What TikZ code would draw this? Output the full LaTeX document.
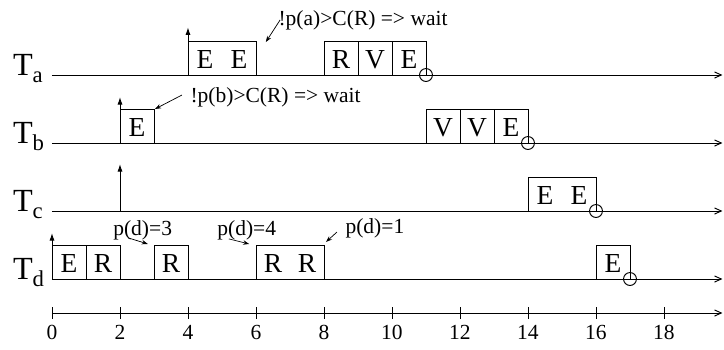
\documentclass[tikz,border=0pt]{standalone}
\usepackage{fontspec}
\setmainfont{Liberation Serif}
\usetikzlibrary{arrows.meta}
\begin{document}
\begin{tikzpicture}[x=1cm,y=1cm,line width=0.8pt,
  box/.style={draw,rectangle,minimum height=1cm,inner sep=0pt,outer sep=0pt},
  lett/.style={font=\fontsize{23}{23}\selectfont,inner sep=0pt,anchor=base},
  note/.style={font=\fontsize{18}{18}\selectfont,inner sep=0pt,anchor=base west},
  num/.style={font=\fontsize{18}{18}\selectfont,inner sep=0pt,anchor=base},
  tl/.style={inner sep=0pt,anchor=base west},
  rel/.style={-{Latex[length=2.2mm,width=1.5mm]}},
  ann/.style={-{Stealth[length=1.8mm,width=1.3mm]},line width=0.6pt},
  tline/.style={-{Straight Barb[length=2mm,width=1.8mm]}},
  fin/.style={draw,circle,minimum size=0.38cm,inner sep=0pt,outer sep=0pt}]
\useasboundingbox (-1.529,-1.059) rectangle (19.765,9.206);
\newcommand{\tlab}[1]{{\fontsize{27}{27}\selectfont T}\raisebox{-6pt}{\fontsize{19}{19}\selectfont #1}}
% task labels
\node[tl] (la) at (-1.16,7) {\tlab{a}};
\node[tl] (lb) at (-1.16,5) {\tlab{b}};
\node[tl] (lc) at (-1.16,3) {\tlab{c}};
\node[tl] (ld) at (-1.16,1) {\tlab{d}};
% time lines
\foreach \r/\y in {a/7,b/5,c/3,d/1}{
  \coordinate (\r0) at (0,\y);
  \coordinate (\r9) at (19.72,\y);
  \draw[tline] (\r0) -- (\r9);
}
% ---- T_a
\node[box,minimum width=2cm] (a1) at (5,7.5) {};
\node[lett] (a1x) at (4.5,7.2) {E};
\node[lett] (a1y) at (5.5,7.2) {E};
\node[box,minimum width=1cm] (a2) at (8.5,7.5) {};
\node[box,minimum width=1cm] (a3) at (9.5,7.5) {};
\node[box,minimum width=1cm] (a4) at (10.5,7.5) {};
\node[lett] (a2x) at (8.5,7.2) {R};
\node[lett] (a3x) at (9.5,7.2) {V};
\node[lett] (a4x) at (10.5,7.2) {E};
\node[fin] (ac) at (11,7) {};
\coordinate (ar0) at (4,7); \coordinate (ar1) at (4,8.4);
\draw[rel] (ar0) -- (ar1);
\node[note] (an) at (6.65,8.47) {!p(a)>C(R) => wait};
\coordinate (aa0) at (6.71,8.62); \coordinate (aa1) at (6.29,7.97);
\draw[ann] (aa0) -- (aa1);
% ---- T_b
\node[box,minimum width=1cm] (b1) at (2.5,5.5) {};
\node[lett] (b1x) at (2.5,5.2) {E};
\node[box,minimum width=1cm] (b2) at (11.5,5.5) {};
\node[box,minimum width=1cm] (b3) at (12.5,5.5) {};
\node[box,minimum width=1cm] (b4) at (13.5,5.5) {};
\node[lett] (b2x) at (11.5,5.2) {V};
\node[lett] (b3x) at (12.5,5.2) {V};
\node[lett] (b4x) at (13.5,5.2) {E};
\node[fin] (bc) at (14,5) {};
\coordinate (br0) at (2,5); \coordinate (br1) at (2,6.35);
\draw[rel] (br0) -- (br1);
\node[note] (bn) at (4.06,6.18) {!p(b)>C(R) => wait};
\coordinate (ba0) at (3.82,6.41); \coordinate (ba1) at (3.03,6.0);
\draw[ann] (ba0) -- (ba1);
% ---- T_c
\node[box,minimum width=2cm] (c1) at (15,3.5) {};
\node[lett] (c1x) at (14.5,3.2) {E};
\node[lett] (c1y) at (15.5,3.2) {E};
\node[fin] (cc) at (16,3) {};
\coordinate (cr0) at (2,3); \coordinate (cr1) at (2,4.38);
\draw[rel] (cr0) -- (cr1);
% ---- T_d
\node[box,minimum width=1cm] (d1) at (0.5,1.5) {};
\node[box,minimum width=1cm] (d2) at (1.5,1.5) {};
\node[lett] (d1x) at (0.5,1.2) {E};
\node[lett] (d2x) at (1.5,1.2) {R};
\node[box,minimum width=1cm] (d3) at (3.5,1.5) {};
\node[lett] (d3x) at (3.5,1.2) {R};
\node[box,minimum width=2cm] (d4) at (7,1.5) {};
\node[lett] (d4x) at (6.5,1.2) {R};
\node[lett] (d4y) at (7.5,1.2) {R};
\node[box,minimum width=1cm] (d5) at (16.5,1.5) {};
\node[lett] (d5x) at (16.5,1.2) {E};
\node[fin] (dc) at (17,1) {};
\coordinate (dr0) at (0,1); \coordinate (dr1) at (0,2.35);
\draw[rel] (dr0) -- (dr1);
\node[note] (dn1) at (1.79,2.27) {p(d)=3};
\coordinate (da0) at (2.24,2.21); \coordinate (da1) at (2.82,2.03);
\draw[ann] (da0) -- (da1);
\node[note] (dn2) at (4.85,2.27) {p(d)=4};
\coordinate (db0) at (5.2,2.18); \coordinate (db1) at (5.8,2.03);
\draw[ann] (db0) -- (db1);
\node[note] (dn3) at (8.62,2.33) {p(d)=1};
\coordinate (dd0) at (8.38,2.38); \coordinate (dd1) at (8.06,2.09);
\draw[ann] (dd0) -- (dd1);
% ---- axis
\coordinate (x0) at (0,0); \coordinate (x9) at (19.72,0);
\draw[tline] (x0) -- (x9);
\foreach \i in {0,2,...,18}{
  \draw (\i,0.17) -- (\i,-0.17);
  \node[num] (n\i) at (\i,-0.79) {\i};
}
\end{tikzpicture}
\end{document}
